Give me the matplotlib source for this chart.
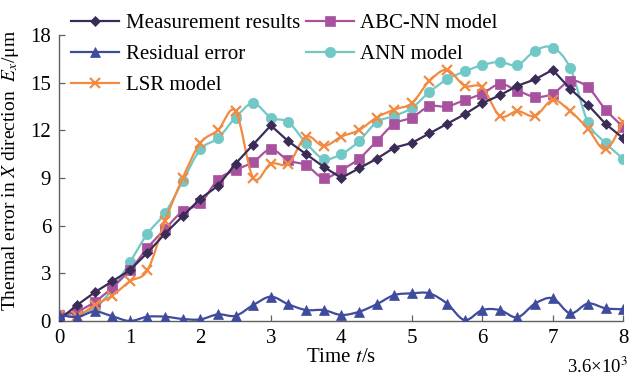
import numpy as np
import matplotlib
matplotlib.use('Agg')
import matplotlib.pyplot as plt
from matplotlib.path import Path
from matplotlib.patches import PathPatch
from matplotlib.lines import Line2D

# time in units of 3.6x10^3 s, one sample every 0.25
t = np.arange(0, 8.01, 0.25)

measurement = [0.1, 1.0, 1.8, 2.5, 3.2, 4.3, 5.5, 6.6, 7.7, 8.5, 9.9, 11.1, 12.3,
               11.3, 10.5, 9.7, 9.0, 9.6, 10.2, 10.9, 11.2, 11.8, 12.4, 13.0, 13.7,
               14.2, 14.8, 15.2, 15.8, 14.6, 13.6, 12.4, 11.5]
abc_nn = [0.4, 0.6, 1.2, 2.1, 3.2, 4.6, 5.8, 6.9, 7.4, 8.9, 9.5, 10.0, 10.8,
          10.1, 9.8, 9.0, 9.5, 10.2, 11.3, 12.4, 12.8, 13.5, 13.5, 13.9, 14.3,
          14.9, 14.5, 14.1, 14.3, 15.1, 14.7, 13.3, 12.2]
residual = [0.4, 0.25, 0.6, 0.3, 0.0, 0.27, 0.27, 0.13, 0.1, 0.42, 0.33, 1.0, 1.53,
            1.05, 0.69, 0.69, 0.38, 0.58, 1.05, 1.63, 1.74, 1.74, 1.1, 0.06, 0.69,
            0.69, 0.23, 1.1, 1.43, 0.48, 1.1, 0.8, 0.74]
ann = [0.3, 0.5, 0.8, 2.0, 3.7, 5.5, 6.8, 8.8, 10.8, 11.5, 12.8, 13.7, 12.8,
       12.5, 11.2, 10.2, 10.5, 11.3, 12.5, 12.9, 13.4, 14.4, 15.2, 15.7, 16.1,
       16.3, 16.1, 17.0, 17.2, 15.9, 12.5, 11.2, 10.2]
lsr = [0.4, 0.3, 1.0, 1.6, 2.5, 3.2, 6.3, 9.0, 11.2, 12.0, 13.2, 9.0, 9.9,
       9.9, 11.6, 11.0, 11.6, 12.0, 12.8, 13.3, 13.7, 15.1, 15.8, 14.8, 14.7,
       12.9, 13.2, 12.9, 13.9, 13.2, 12.1, 10.8, 12.5]

plt.rcParams['font.family'] = ['Liberation Serif', 'DejaVu Serif']
plt.rcParams['mathtext.fontset'] = 'stix'


def smooth_path(x, y):
    # smoothed line like a spreadsheet chart (Catmull-Rom -> cubic Bezier)
    pts = np.column_stack([x, y]).astype(float)
    n = len(pts)
    verts = [pts[0]]
    codes = [Path.MOVETO]
    for i in range(n - 1):
        p0 = pts[max(i - 1, 0)]
        p1 = pts[i]
        p2 = pts[i + 1]
        p3 = pts[min(i + 2, n - 1)]
        verts += [p1 + (p2 - p0) / 6, p2 - (p3 - p1) / 6, p2]
        codes += [Path.CURVE4] * 3
    return Path(verts, codes)


fig = plt.figure(figsize=(6.32, 3.79), dpi=100)
ax = fig.add_axes([0.094, 0.153, 0.892, 0.755])

series = [
    ('Measurement results', measurement, '#3a2c57', 'D', 5.5, False, 5),
    ('Residual error', residual, '#3f4b9c', '^', 7, True, 6),
    ('LSR model', lsr, '#f28a42', 'x', 7, True, 4),
    ('ABC-NN model', abc_nn, '#a8529f', 's', 7, True, 3),
    ('ANN model', ann, '#72c8c6', 'o', 7.5, True, 2),
]

handles = []
for label, vals, color, marker, ms, smooth, z in series:
    if smooth:
        ax.add_patch(PathPatch(smooth_path(t, vals), facecolor='none',
                               edgecolor=color, lw=1.6, zorder=z))
    else:
        ax.plot(t, vals, color=color, lw=1.6, zorder=z)
    ax.plot(t, vals, ls='none', marker=marker, ms=ms, color=color,
            mew=1.6 if marker == 'x' else 0.5, zorder=z + 0.5)
    handles.append(Line2D([], [], color=color, lw=1.6, marker=marker, ms=ms,
                          mew=1.6 if marker == 'x' else 0.5, label=label))

ax.set_xlim(0, 8)
ax.set_ylim(0, 18)
ax.set_xticks(range(0, 9))
ax.set_yticks(range(0, 19, 3))
ax.spines['top'].set_visible(False)
ax.spines['right'].set_visible(False)
for s in ['left', 'bottom']:
    ax.spines[s].set_color('#606060')
    ax.spines[s].set_linewidth(1.0)
ax.tick_params(direction='in', length=4, width=0.9, color='#606060',
               labelsize=15, pad=6)

ax.set_xlabel('Time $t$/s', fontsize=15, labelpad=0)
ax.set_ylabel('Thermal error in $X$ direction  $E_x$/μm', fontsize=14)
ax.yaxis.set_label_coords(-0.068, 0.525)
fig.text(0.993, 0.033, '3.6×10$^3$', fontsize=13.5, ha='right', va='center')

fig.legend(handles=handles, ncol=2, loc='upper left',
           bbox_to_anchor=(0.113, 0.965), bbox_transform=fig.transFigure,
           frameon=False, fontsize=15, handlelength=2.3, handletextpad=0.3,
           columnspacing=0.3, labelspacing=0.56, borderpad=0, borderaxespad=0)

fig.savefig('out.png', dpi=100)
